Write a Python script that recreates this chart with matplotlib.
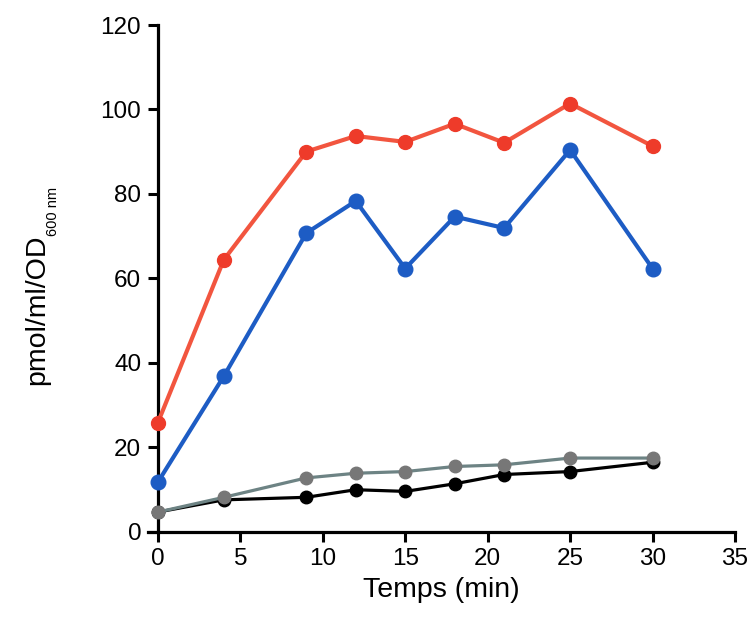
import matplotlib
matplotlib.use("Agg")
import matplotlib.pyplot as plt

time_min = [0, 4, 9, 12, 15, 18, 21, 25, 30]
red_vals = [25.8, 64.4, 90.0, 93.7, 92.3, 96.6, 92.1, 101.4, 91.3]
blue_vals = [11.7, 36.8, 70.7, 78.3, 62.3, 74.6, 71.9, 90.4, 62.3]
gray_vals = [4.6, 8.1, 12.7, 13.8, 14.2, 15.4, 15.8, 17.4, 17.4]
black_vals = [4.6, 7.5, 8.1, 9.9, 9.5, 11.3, 13.5, 14.2, 16.4]
xticks = [0, 5, 10, 15, 20, 25, 30, 35]
yticks = [0, 20, 40, 60, 80, 100, 120]

plt.rcParams['font.family'] = ['Liberation Sans', 'DejaVu Sans']

W, H = 752, 619
fig = plt.figure(figsize=(W / 100, H / 100), dpi=100)
ax = fig.add_axes([148 / W, 1 - 531.5 / H, (735 - 148) / W, (531.5 - 25) / H])

ax.plot(time_min, black_vals, color='black', lw=2.3, marker='o', ms=9, zorder=3)
ax.plot(time_min, gray_vals, color='#6d8384', lw=2.3, marker='o', ms=9,
        markerfacecolor='#777777', markeredgecolor='#777777', zorder=4)
ax.plot(time_min, blue_vals, color='#1d5cc4', lw=3, marker='o', ms=10.5, zorder=5)
ax.plot(time_min, red_vals, color='#f2553f', lw=3, marker='o', ms=10,
        markerfacecolor='#ee3b2a', markeredgecolor='#ee3b2a', zorder=6)

ax.set_xlim(-0.6, 35)
ax.set_ylim(0, 120)
ax.set_xticks(xticks)
ax.set_yticks(yticks)
ax.spines['top'].set_visible(False)
ax.spines['right'].set_visible(False)
ax.spines['left'].set_position(('data', 0))
for s in ['left', 'bottom']:
    ax.spines[s].set_linewidth(2.3)
ax.tick_params(width=2.2, length=7, labelsize=17.5, direction='out', pad=5)
ax.set_xlabel('Temps (min)', fontsize=20.5, labelpad=5)

fig.text(37 / W, 1 - 310 / H, 'pmol/ml/OD', rotation=90, fontsize=20.5,
         ha='center', va='center')
fig.text(53 / W, 1 - 236 / H, '600 nm', rotation=90, fontsize=10.5,
         ha='center', va='bottom')

for c in ax.get_children():
    try:
        c.set_clip_on(False)
    except Exception:
        pass

fig.savefig('out.png', dpi=100)
